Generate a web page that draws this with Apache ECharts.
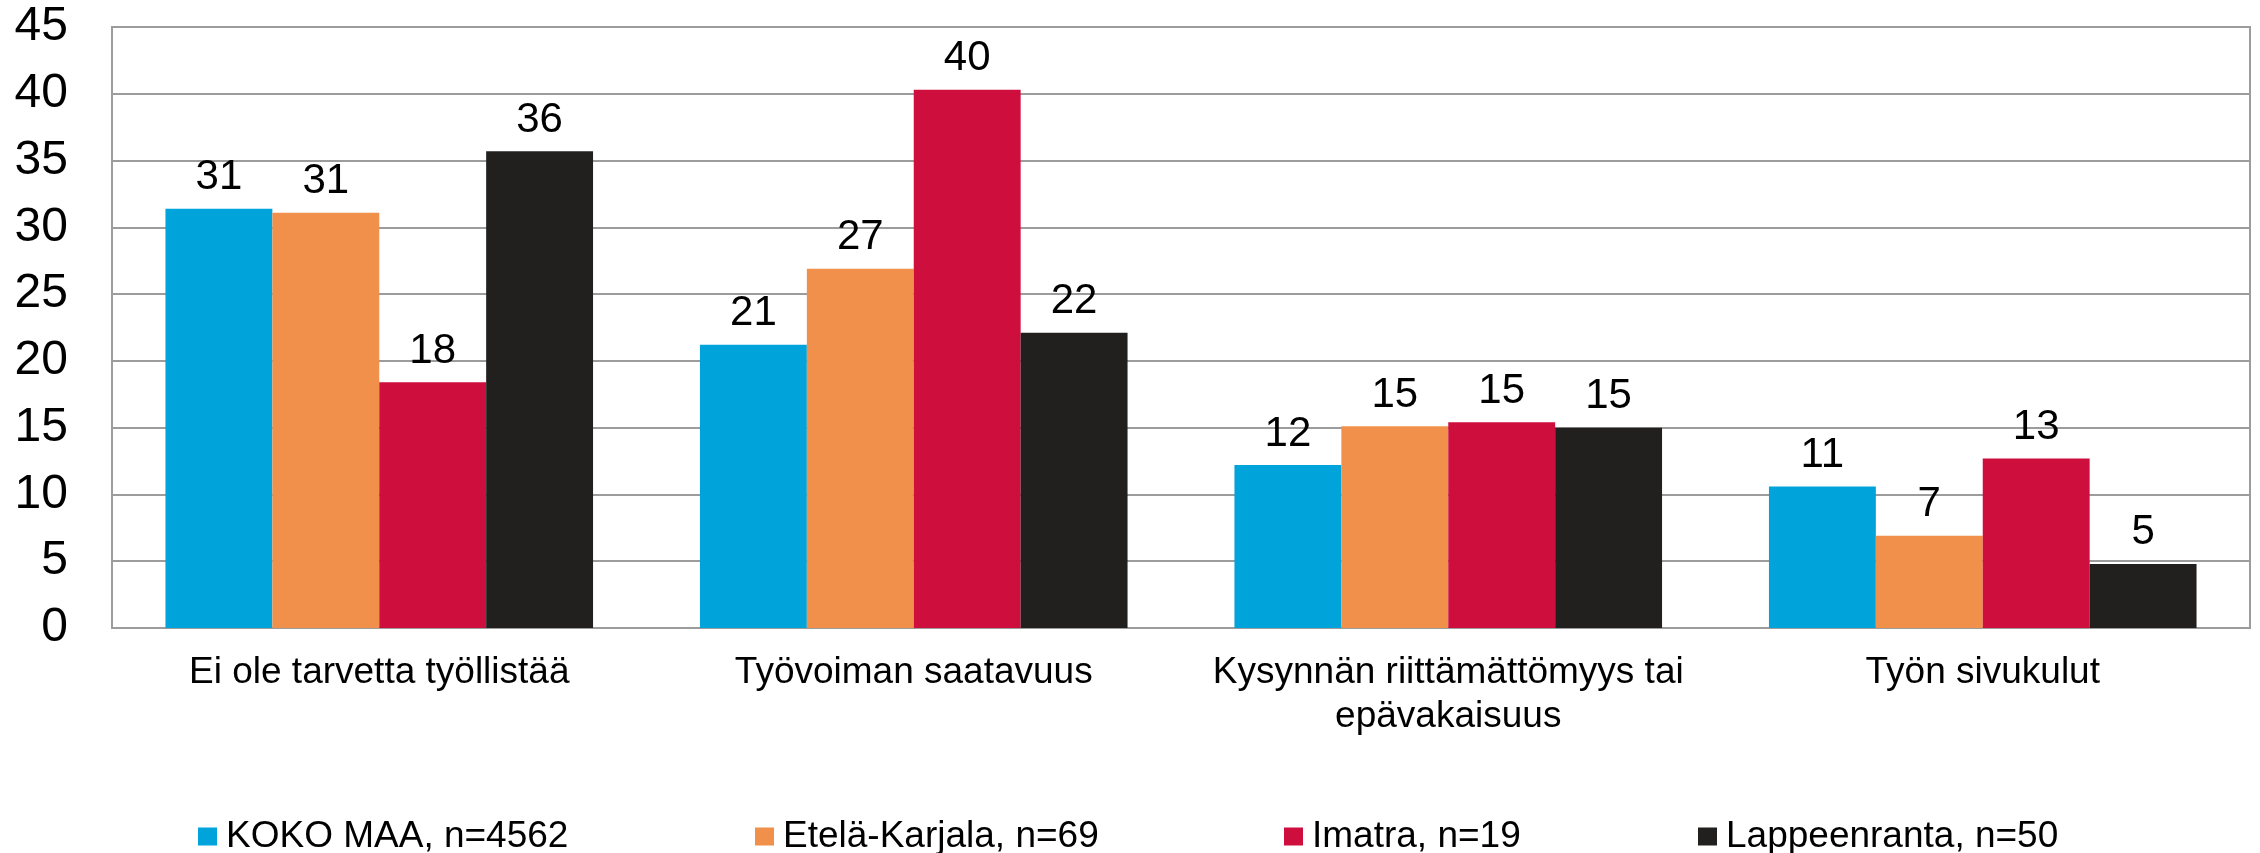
<!DOCTYPE html>
<html>
<head>
<meta charset="utf-8">
<script src="https://cdn.jsdelivr.net/npm/echarts@6/dist/echarts.min.js"></script>
<style>
html,body{margin:0;padding:0;background:#fff;}
#chart{width:2260px;height:853px;}
</style>
</head>
<body>
<div id="chart"></div>
<script>
const categories = ["Ei ole tarvetta työllistää", "Työvoiman saatavuus", "Kysynnän riittämättömyys tai\nepävakaisuus", "Työn sivukulut"];
const seriesNames = ["KOKO MAA, n=4562", "Etelä-Karjala, n=69", "Imatra, n=19", "Lappeenranta, n=50"];
const kokoMaa = [31.4, 21.2, 12.2, 10.6];
const etelaKarjala = [31.1, 26.9, 15.1, 6.9];
const imatra = [18.4, 40.3, 15.4, 12.7];
const lappeenranta = [35.7, 22.1, 15.0, 4.8];
const yTicks = [0, 5, 10, 15, 20, 25, 30, 35, 40, 45];

const colors = ["#00A3DA", "#F0904B", "#CE0F3E", "#22201F"];
const seriesData = [kokoMaa, etelaKarjala, imatra, lappeenranta];
const legendLeft = [193, 750, 1279, 1693];
const FONT = "Liberation Sans, Arial, sans-serif";

const chart = echarts.init(document.getElementById('chart'), null, {renderer: 'canvas'});
const option = {
  animation: false,
  backgroundColor: '#fff',
  color: colors,
  grid: {left: 112, right: 10, top: 27, bottom: 225, show: true, borderColor: '#9C9C9C', borderWidth: 2, containLabel: false},
  legend: seriesNames.map((n, i) => ({
    data: [n],
    left: legendLeft[i],
    top: 813,
    itemWidth: 19,
    itemHeight: 18,
    icon: 'rect',
    textStyle: {fontFamily: FONT, fontSize: 37, color: '#000', padding: [0, 0, 0, 4]}
  })),
  xAxis: {
    type: 'category',
    data: categories,
    axisLine: {show: true, lineStyle: {color: '#9C9C9C', width: 2}},
    axisTick: {show: false},
    axisLabel: {fontFamily: FONT, fontSize: 37, color: '#000', margin: 23, lineHeight: 44, interval: 0}
  },
  yAxis: {
    type: 'value',
    min: yTicks[0],
    max: yTicks[yTicks.length - 1],
    interval: 5,
    axisLine: {show: true, lineStyle: {color: '#9C9C9C', width: 2}},
    axisTick: {show: false},
    splitLine: {show: true, lineStyle: {color: '#9C9C9C', width: 2}},
    axisLabel: {fontFamily: FONT, fontSize: 48, color: '#000', margin: 44}
  },
  series: seriesData.map((d, i) => ({
    name: seriesNames[i],
    type: 'bar',
    data: d,
    barGap: '0%',
    barCategoryGap: '20%',
    itemStyle: {color: colors[i]},
    label: {
      show: true, position: 'top', distance: 10,
      fontFamily: FONT, fontSize: 42, color: '#000',
      formatter: p => Math.round(p.value)
    }
  }))
};
chart.setOption(option);
</script>
</body>
</html>
